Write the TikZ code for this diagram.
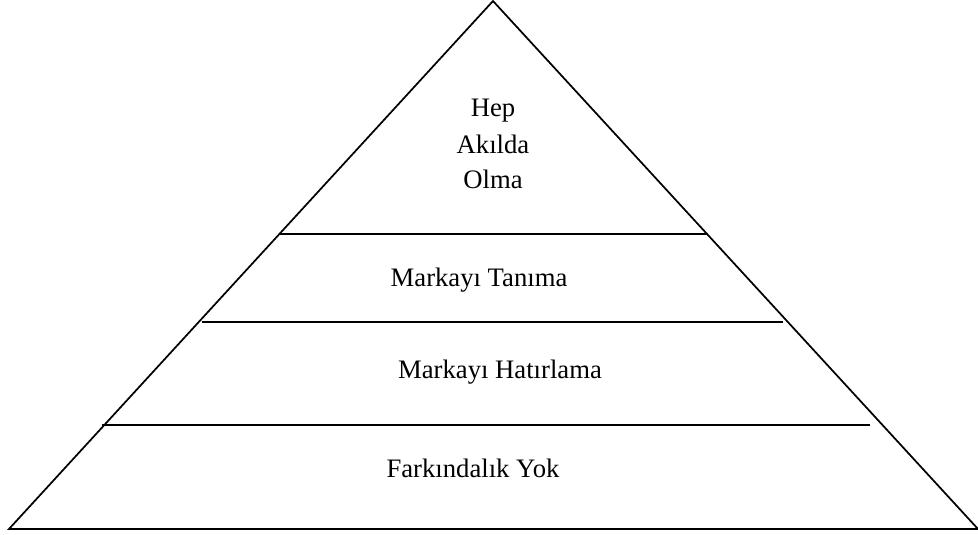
\documentclass[tikz,border=0pt]{standalone}
\usepackage{fontspec}
\setmainfont{Liberation Serif}

\begin{document}
\begin{tikzpicture}[x=0.75pt, y=-0.75pt, font=\fontsize{20}{26}\selectfont,
    edge/.style={line width=1.3pt, line join=miter},
    level/.style={line width=1.5pt},
    lbl/.style={anchor=base, inner sep=0pt}]
    \useasboundingbox (0,0) rectangle (978,535);
    \coordinate (apex) at (493,1);
    \coordinate (baseL) at (9,529);
    \coordinate (baseR) at (978,529);
    \draw[edge] (baseL) -- (apex) -- (baseR) -- cycle;
    % levels
    \draw[level] (279,234) -- (708,234);
    \draw[level] (202,322) -- (783,322);
    \draw[level] (102,425) -- (870,425);
    % texts
    \node[lbl] (hep) at (493,117) {Hep};
    \node[lbl] (akilda) at (493,153) {Akılda};
    \node[lbl] (olma) at (493,188) {Olma};
    \node[lbl] (tanima) at (479,286) {Markayı Tanıma};
    \node[lbl] (hatirlama) at (500,378) {Markayı Hatırlama};
    \node[lbl] (yok) at (473,477) {Farkındalık Yok};
\end{tikzpicture}
\end{document}
